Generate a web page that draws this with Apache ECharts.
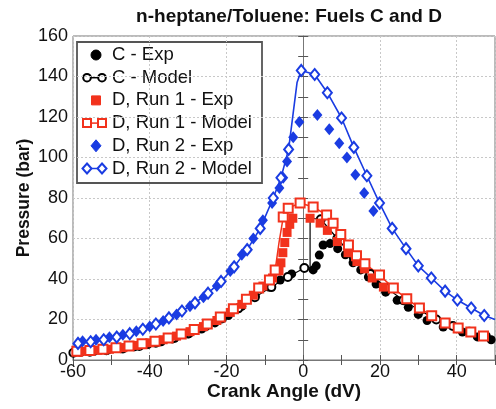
<!DOCTYPE html>
<html>
<head>
<meta charset="utf-8">
<script src="https://cdn.jsdelivr.net/npm/echarts@6/dist/echarts.min.js"></script>
<style>
  html, body { margin: 0; padding: 0; background: #fff; }
  #chart { width: 496px; height: 409px; }
</style>
</head>
<body>
<div id="chart"></div>
<script>
//--------------------------------
// Data (crank angle, pressure[, 0 = line only])
//--------------------------------
const cExp = [[-58,3.8],[-54.5,4.3],[-51,4.9],[-47.5,5.6],[-44,6.5],[-40.5,7.6],[-37,9],[-33.5,10.7],[-30,12.8],[-26.5,15.3],[-23,18.3],[-19.5,22],[-16,26.5],[-12.5,31.5],[-9,36],[-6,39.5],[-3,42.5],[2.6,44.5],[3.4,46.5],[4.2,51.8],[5.2,56.8],[7,57.5],[9,55],[11,52],[13,48],[15,44.5],[17,41],[19,37.5],[21.5,33.5],[24.5,29.5],[27.4,26],[30,22.5],[32.3,19.5],[36.5,16.3],[41.5,13.8],[45.4,11.4],[49,10]];

const cModel = [[-59.9,3.6],[-55.6,4.1],[-51.3,4.8],[-47,5.7],[-42.7,6.9],[-38.4,8.5],[-34.1,10.6],[-29.8,13.2],[-25.5,16.5],[-21.2,20.5],[-16.9,25.5],[-12.6,31],[-8.3,36],[-4,41],[0.3,45.4],[1.8,45.8,0],[1.8,70,0],[4.6,69.5],[8.9,60],[13.2,50.5],[17.5,42.5],[21.8,35.5],[26.1,29.5],[30.4,24.5],[34.7,20],[39,16.8],[43.3,14],[47.6,11.8],[50,10.8,0]];

const d1Exp = [[-58.5,3.9],[-56.5,4.3],[-53.5,4.8],[-50.5,5.3],[-47,6.1],[-43.5,7.2],[-40,8.5],[-36.5,10],[-33,11.8],[-29.5,14],[-26,16.5],[-22.5,19.5],[-19,23.5],[-16,27.5],[-13,32],[-10.5,36.5],[-8,40.5],[-6.3,44],[-5.8,48],[-5.3,53],[-4.8,58],[-4.2,63],[-3.5,67],[-2.7,70],[1.8,70],[4.4,67.6],[6.3,64],[8.9,58.5],[11.7,53],[14,48.6],[16,45],[18,40.5],[20.9,36]];

const d1Model = [[-60,4,0],[-59,4.3],[-55.6,4.7],[-52.2,5.3],[-48.8,6],[-45.4,6.9],[-42,8],[-38.6,9.3],[-35.2,10.9],[-31.8,12.8],[-28.4,15.1],[-25,17.8],[-21.6,21.2],[-18.2,25.3],[-14.8,30],[-11.6,35.5],[-8.8,39.5],[-7.3,44.5],[-6.3,58,0],[-5.2,70.6],[-3.9,75],[-0.8,77.5],[2.6,75.6],[6.1,71.6],[7.8,67.5],[9.8,62],[11.8,56.8],[13.9,51.5],[16.1,47.5],[19.9,42],[23.5,35.5],[27,30.2],[30.3,25.7],[33.5,21.8],[37,18.3],[40.4,15.8],[43.7,13.8],[47,11.8],[50,10.9,0]];

const d2Exp = [[-57.5,9.2],[-54,10],[-50.5,11.2],[-47,12.5],[-43.5,14.2],[-40,16.5],[-36.5,19.3],[-33,22.5],[-29.5,26.5],[-26,31],[-22.5,36.5],[-19,44],[-16,52],[-13,60],[-10.5,69],[-8.1,77.5],[-6.2,85],[-5.2,90],[-4.2,98],[-2.6,110],[-1,117.5],[3.7,121],[6.8,114],[9.4,107],[11.4,100],[13.6,91.5],[15.9,82.5],[18.3,73.6]];

const d2Model = [[-60,7.5,0],[-58.7,8.2],[-55.4,9],[-52,10],[-48.6,11.3],[-45.2,13],[-41.8,15.2],[-38.4,17.8],[-35,20.8],[-31.6,24.2],[-28.2,28.2],[-24.8,33],[-21.4,38.8],[-18,46],[-14.6,54.5],[-11.2,65],[-7.8,80],[-5.8,90],[-3.8,104],[-2.6,122,0],[-1.6,137,0],[-0.5,143],[3,141],[6.3,132],[10,119.5],[13.2,105],[16.6,91],[19.9,77.5],[23.2,65],[26.8,55],[30,46.5],[33.4,40.5],[37,34],[40.2,29.6],[43.8,25.7],[47.2,22],[50,20,0]];

const seriesNames = ['C - Exp', 'C - Model', 'D, Run 1 - Exp', 'D, Run 1 - Model', 'D, Run 2 - Exp', 'D, Run 2 - Model'];

//--------------------------------
// Chart
//--------------------------------
const BLACK = '#000000';
const RED = '#f2321c';
const BLUE = '#1a3ce2';
const FONT = 'Liberation Sans, Arial, Helvetica, sans-serif';

const myChart = echarts.init(document.getElementById('chart'));

const markerSize = (size) => (v) => (v[2] === 0 ? 0 : size);

const expSeries = (name, data, symbol, size, color) => ({
    name: name,
    type: 'scatter',
    data: data,
    symbol: symbol,
    symbolSize: size,
    itemStyle: { color: color, opacity: 1 },
    z: 3
});

const modelSeries = (name, data, symbol, size, color, width) => ({
    name: name,
    type: 'line',
    data: data,
    symbol: symbol,
    symbolSize: markerSize(size),
    showAllSymbol: true,
    lineStyle: { color: color, width: width },
    itemStyle: { color: color, borderWidth: 2 },
    z: 3
});

const sideAxis = {
    type: 'value',
    axisLine: { show: false },
    axisTick: { show: true, inside: true, length: 5, lineStyle: { color: '#555' } },
    minorTick: { show: true, splitNumber: 2, length: 5, lineStyle: { color: '#555' } },
    axisLabel: { show: false },
    splitLine: { show: false }
};

//--------------------------------
// Legend box (drawn with graphic elements, MATLAB style)
//--------------------------------
const legendRows = [
    { kind: 'circle', fill: true, color: BLACK },
    { kind: 'circle', fill: false, color: BLACK },
    { kind: 'rect', fill: true, color: RED },
    { kind: 'rect', fill: false, color: RED },
    { kind: 'diamond', fill: true, color: BLUE },
    { kind: 'diamond', fill: false, color: BLUE }
];

const makeMarker = (kind, cx, cy, fill, color) => {
    const style = fill
        ? { fill: color, stroke: color, lineWidth: 1 }
        : { fill: '#fff', stroke: color, lineWidth: 2 };
    if (kind === 'circle') {
        return { type: 'circle', shape: { cx: cx, cy: cy, r: fill ? 5 : 3.8 }, style: style };
    }
    if (kind === 'rect') {
        const s = fill ? 9 : 8;
        return { type: 'rect', shape: { x: cx - s / 2, y: cy - s / 2, width: s, height: s }, style: style };
    }
    const w = fill ? 5 : 4.5, h = fill ? 6 : 5;
    return { type: 'polygon', shape: { points: [[cx, cy - h], [cx + w, cy], [cx, cy + h], [cx - w, cy]] }, style: style };
};

const legendChildren = [
    { type: 'rect', shape: { x: 77, y: 42, width: 185, height: 141 }, style: { fill: '#fff', stroke: '#555', lineWidth: 1.8 } }
];
legendRows.forEach((row, i) => {
    const cy = 55 + i * 22.7;
    if (row.fill) {
        legendChildren.push(makeMarker(row.kind, 96, cy, true, row.color));
    } else {
        legendChildren.push({ type: 'line', shape: { x1: 87, y1: cy, x2: 102, y2: cy }, style: { stroke: row.color, lineWidth: 1.5 } });
        legendChildren.push(makeMarker(row.kind, 87, cy, false, row.color));
        legendChildren.push(makeMarker(row.kind, 102, cy, false, row.color));
    }
    legendChildren.push({
        type: 'text', x: 112, y: cy,
        style: { text: seriesNames[i], fontFamily: FONT, fontSize: 18.5, fill: '#111', verticalAlign: 'middle' }
    });
});

let options = {
    animation: false,
    title: {
        text: 'n-heptane/Toluene: Fuels C and D',
        left: 284,
        textAlign: 'center',
        top: 2,
        textStyle: { fontFamily: FONT, fontSize: 19, fontWeight: 'bold', color: '#111' }
    },
    grid: { left: 73, right: 1, top: 36, bottom: 49, show: true, borderColor: '#777', borderWidth: 1 },
    xAxis: [
        {
            type: 'value',
            min: -60, max: 50, interval: 20,
            name: 'Crank Angle (dV)',
            nameLocation: 'middle',
            nameGap: 22,
            nameMoveOverlap: false,
            nameTextStyle: { fontFamily: FONT, fontSize: 19, fontWeight: 'bold', color: '#111' },
            axisLine: { show: true, lineStyle: { color: '#777' } },
            axisTick: { show: true, inside: true, length: 5, lineStyle: { color: '#555' } },
            minorTick: { show: true, splitNumber: 2, length: 5, lineStyle: { color: '#555' } },
            axisLabel: { fontFamily: FONT, fontSize: 18, color: '#111', margin: 3, showMaxLabel: false },
            splitLine: { show: true, lineStyle: { color: '#c8c8c8', type: [2, 2] } }
        },
        Object.assign({}, sideAxis, { position: 'top', min: -60, max: 50, interval: 20 })
    ],
    yAxis: [
        {
            type: 'value',
            min: 0, max: 160, interval: 20,
            name: 'Pressure (bar)',
            nameLocation: 'middle',
            nameGap: 40,
            nameMoveOverlap: false,
            nameTextStyle: { fontFamily: FONT, fontSize: 17.5, fontWeight: 'bold', color: '#111' },
            axisLine: { show: true, lineStyle: { color: '#777' } },
            axisTick: { show: true, inside: true, length: 5, lineStyle: { color: '#555' } },
            minorTick: { show: true, splitNumber: 2, length: 5, lineStyle: { color: '#555' } },
            axisLabel: { fontFamily: FONT, fontSize: 18, color: '#111', margin: 5 },
            splitLine: { show: true, lineStyle: { color: '#c8c8c8', type: [2, 2] } }
        },
        Object.assign({}, sideAxis, { position: 'right', min: 0, max: 160, interval: 20 })
    ],
    graphic: [
        { type: 'group', z: 100, children: legendChildren }
    ],
    series: [
        expSeries(seriesNames[0], cExp, 'circle', 9, BLACK),
        modelSeries(seriesNames[1], cModel, 'emptyCircle', 8, BLACK, 1.2),
        expSeries(seriesNames[2], d1Exp, 'rect', 9, RED),
        modelSeries(seriesNames[3], d1Model, 'emptyRect', 9, RED, 1.5),
        expSeries(seriesNames[4], d2Exp, 'diamond', [10, 12], BLUE),
        modelSeries(seriesNames[5], d2Model, 'emptyDiamond', [9, 11], BLUE, 1.6)
    ]
};

myChart.setOption(options);
</script>
</body>
</html>
